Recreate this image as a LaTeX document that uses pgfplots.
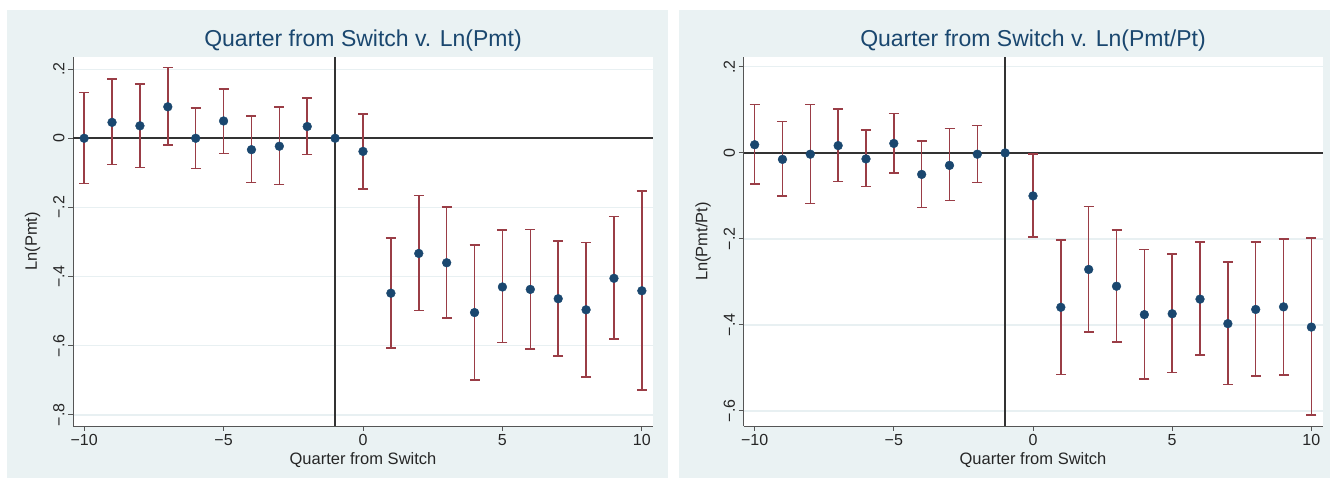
\documentclass[border=0pt]{standalone}
\usepackage{fontspec}
\setmainfont{Liberation Sans}
\usepackage{pgfplots}
\pgfplotsset{compat=1.18}
\usepackage{pgfplotstable}
\definecolor{stbg}{HTML}{EAF2F3}
\definecolor{stgrid}{HTML}{E8F0F2}
\definecolor{stnavy}{HTML}{1A476F}
\definecolor{stmaroon}{HTML}{9A3D46}
\definecolor{staxis}{HTML}{555555}

\pgfplotstableread{
x y lo hi
-10 0 -0.131 0.133
-9 0.046 -0.076 0.171
-8 0.036 -0.084 0.157
-7 0.091 -0.020 0.205
-6 0 -0.087 0.087
-5 0.050 -0.044 0.143
-4 -0.033 -0.128 0.064
-3 -0.023 -0.134 0.091
-2 0.034 -0.047 0.117
-1 0 0 0
0 -0.038 -0.147 0.070
1 -0.448 -0.607 -0.288
2 -0.333 -0.498 -0.165
3 -0.360 -0.520 -0.199
4 -0.504 -0.699 -0.308
5 -0.430 -0.591 -0.265
6 -0.437 -0.610 -0.264
7 -0.464 -0.629 -0.297
8 -0.496 -0.691 -0.302
9 -0.405 -0.581 -0.226
10 -0.441 -0.728 -0.152
}\pmt

\pgfplotstableread{
x y lo hi
-10 0.019 -0.072 0.112
-9 -0.015 -0.100 0.073
-8 -0.003 -0.118 0.113
-7 0.017 -0.067 0.102
-6 -0.014 -0.078 0.053
-5 0.022 -0.047 0.092
-4 -0.050 -0.127 0.028
-3 -0.029 -0.111 0.057
-2 -0.003 -0.069 0.064
-1 0 0 0
0 -0.100 -0.195 -0.002
1 -0.359 -0.515 -0.202
2 -0.271 -0.416 -0.125
3 -0.310 -0.440 -0.179
4 -0.376 -0.526 -0.225
5 -0.374 -0.511 -0.235
6 -0.340 -0.470 -0.207
7 -0.397 -0.539 -0.254
8 -0.364 -0.519 -0.207
9 -0.358 -0.516 -0.200
10 -0.405 -0.610 -0.198
}\pmtpt

\pgfplotsset{
  statastyle/.style={
    scale only axis,
    xmin=-10.4, xmax=10.4,
    axis x line*=bottom,
    axis y line*=left,
    axis line style={staxis, line width=0.9pt, -},
    axis background/.style={fill=white},
    tick align=outside,
    major tick length=5pt,
    tick style={staxis, line width=0.9pt},
    xtick={-10,-5,0,5,10},
    xticklabels={−10,−5,0,5,10},
    ymajorgrids,
    grid style={stgrid, line width=1.2pt},
    tick label style={font=\fontsize{16}{18}\selectfont, text=black!85},
    yticklabel style={rotate=90, anchor=south},
    label style={font=\fontsize{16.5}{19}\selectfont, text=black!85},
    ylabel style={yshift=6pt},
    xlabel={Quarter from Switch},
    title style={font=\fontsize{23}{26}\selectfont, text=stnavy, yshift=-4pt},
    clip=false,
  },
  rcap/.style={only marks, mark=none,
    x filter/.expression={x==-1 ? nan : x},
    error bars/.cd, y dir=both, y explicit,
    error mark=-,
    error bar style={stmaroon, line width=1.5pt},
    error mark options={stmaroon, line width=1.5pt, mark size=5pt, rotate=90}},
  dots/.style={only marks, mark=*, mark size=4.4pt, stnavy, mark options={fill=stnavy, draw=stnavy}},
  refline/.style={black!80, line width=1.6pt},
}

\begin{document}
\begin{tikzpicture}
\fill[white] (0pt,0pt) rectangle (1330pt,484pt);
\fill[stbg] (7pt,6pt) rectangle (668pt,474pt);
\fill[stbg] (679pt,6pt) rectangle (1330pt,474pt);

\begin{axis}[statastyle,
  at={(73pt,58pt)}, anchor=south west,
  width=580pt, height=369pt,
  ymin=-0.832, ymax=0.235,
  ytick={-0.8,-0.6,-0.4,-0.2,0,0.2},
  yticklabels={−.8,−.6,−.4,−.2,0,.2},
  ylabel={Ln(Pmt)},
  title={Quarter from Switch v. Ln(Pmt)},
]
\addplot[refline] coordinates {(-10.4,0) (10.4,0)};
\addplot[refline] coordinates {(-1,-0.832) (-1,0.235)};
\addplot[rcap] table[x=x, y=y,
  y error plus expr=\thisrow{hi}-\thisrow{y},
  y error minus expr=\thisrow{y}-\thisrow{lo}] {\pmt};
\addplot[dots] table[x=x, y=y] {\pmt};
\end{axis}

\begin{axis}[statastyle,
  at={(743.5pt,58pt)}, anchor=south west,
  width=579pt, height=369pt,
  ymin=-0.635, ymax=0.223,
  ytick={-0.6,-0.4,-0.2,0,0.2},
  yticklabels={−.6,−.4,−.2,0,.2},
  ylabel={Ln(Pmt/Pt)},
  title={Quarter from Switch v. Ln(Pmt/Pt)},
]
\addplot[refline] coordinates {(-10.4,0) (10.4,0)};
\addplot[refline] coordinates {(-1,-0.635) (-1,0.223)};
\addplot[rcap] table[x=x, y=y,
  y error plus expr=\thisrow{hi}-\thisrow{y},
  y error minus expr=\thisrow{y}-\thisrow{lo}] {\pmtpt};
\addplot[dots] table[x=x, y=y] {\pmtpt};
\end{axis}
\end{tikzpicture}
\end{document}
